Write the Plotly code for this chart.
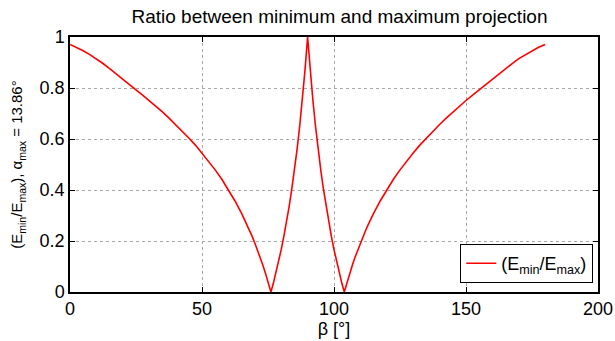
import plotly.graph_objects as go

beta = [0, 2.5, 5, 7.5, 10, 12.5, 15, 17.5, 20, 22.5, 25, 27.5, 30, 32.5, 35, 37.5, 40, 42.5, 45,
        47.5, 50, 52.5, 55, 57.5, 60, 62.5, 65, 66, 67, 68, 69, 70, 71, 72, 73, 74, 75,
        76.1, 77, 78, 79, 80, 81, 82, 83, 84, 85, 86, 87, 88, 89, 90,
        91, 92, 93, 94, 95, 96, 97, 98, 99, 100, 101, 102, 103, 103.9,
        105, 106, 107, 108, 109, 110, 111, 112, 113, 114, 115, 117.5, 120, 122.5, 125, 127.5,
        130, 132.5, 135, 137.5, 140, 142.5, 145, 147.5, 150, 152.5, 155, 157.5, 160, 162.5,
        165, 167.5, 170, 172.5, 175, 177.5, 180]
ratio = [0.971, 0.960, 0.946, 0.931, 0.915, 0.896, 0.876, 0.856, 0.835, 0.815, 0.793, 0.772, 0.751,
         0.728, 0.706, 0.682, 0.657, 0.631, 0.604, 0.576, 0.545, 0.513, 0.479, 0.442, 0.401, 0.357,
         0.308, 0.287, 0.265, 0.242, 0.218, 0.192, 0.165, 0.137, 0.107, 0.075, 0.041,
         0.0, 0.033, 0.074, 0.119, 0.166, 0.218, 0.274, 0.335, 0.403, 0.477, 0.558, 0.650, 0.752, 0.868, 1.0,
         0.868, 0.752, 0.650, 0.558, 0.477, 0.403, 0.335, 0.274, 0.218, 0.166, 0.119, 0.074, 0.033, 0.0,
         0.041, 0.075, 0.107, 0.137, 0.165, 0.192, 0.218, 0.242, 0.265, 0.287, 0.308, 0.357, 0.401,
         0.442, 0.479, 0.513, 0.545, 0.576, 0.604, 0.631, 0.657, 0.682, 0.706, 0.728, 0.751, 0.772,
         0.793, 0.815, 0.835, 0.856, 0.876, 0.896, 0.915, 0.931, 0.946, 0.960, 0.971]

x_ticks = [0, 50, 100, 150, 200]
y_ticks = [0, 0.2, 0.4, 0.6, 0.8, 1]
y_tick_text = ["0", "0.2", "0.4", "0.6", "0.8", "1"]

FONT = "Liberation Sans, Arial, Helvetica, sans-serif"

fig = go.Figure()
fig.add_trace(go.Scatter(
    x=beta, y=ratio, mode="lines",
    line=dict(color="#ff0000", width=1.6),
    name="(E<sub>min</sub>/E<sub>max</sub>)",
))

axis_common = dict(
    showline=True, linecolor="black", linewidth=1.5, mirror="allticks",
    ticks="inside", ticklen=5, tickcolor="black", tickwidth=1,
    showgrid=True, gridcolor="#a8a8a8", griddash="dot", gridwidth=1,
    zeroline=False, automargin=False,
    tickfont=dict(family=FONT, size=18, color="black"),
)

fig.update_layout(
    width=615, height=341,
    margin=dict(l=70, r=17, t=37, b=49, autoexpand=False),
    paper_bgcolor="white", plot_bgcolor="white",
    font=dict(family=FONT, size=18, color="black"),
    title=dict(text="Ratio between minimum and maximum projection",
               x=0.552, xanchor="center", y=0.952, yanchor="middle",
               font=dict(family=FONT, size=19, color="black")),
    xaxis=dict(range=[0, 200], tickvals=x_ticks, ticktext=[str(v) for v in x_ticks],
               title=dict(text="β [°]", standoff=0, font=dict(family=FONT, size=18)),
               **axis_common),
    yaxis=dict(range=[0, 1], tickvals=y_ticks, ticktext=y_tick_text,
               title=dict(text="(E<sub>min</sub>/E<sub>max</sub>), α<sub>max</sub> = 13.86°",
                          standoff=13, font=dict(family=FONT, size=15)),
               **axis_common),
    showlegend=True,
    legend=dict(x=0.991, xanchor="right", y=0.035, yanchor="bottom",
                bgcolor="white", bordercolor="black", borderwidth=1,
                font=dict(family=FONT, size=18, color="black"),
                itemwidth=30, tracegroupgap=0),
)

fig.write_html("out.html")
